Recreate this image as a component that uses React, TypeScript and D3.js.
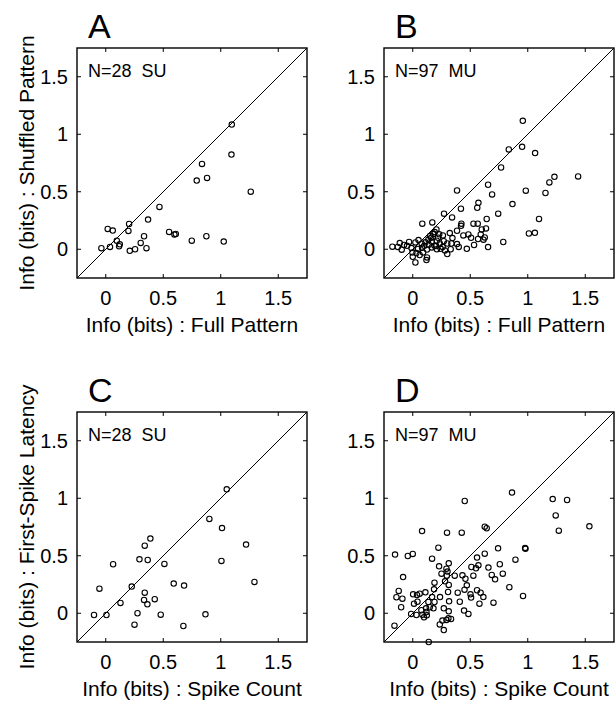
import React from 'react';
import * as d3 from 'd3';

// info values (bits)
const SU_SHUFFLED: [number, number][] = [
  [1.096, 1.084], [1.093, 0.823], [0.837, 0.742], [0.881, 0.62], [0.791, 0.597], [1.261, 0.501],
  [0.467, 0.368], [0.368, 0.258], [0.203, 0.22], [0.197, 0.159], [0.017, 0.177], [0.061, 0.162],
  [0.551, 0.151], [0.597, 0.128], [0.609, 0.133], [0.333, 0.113], [0.748, 0.075], [0.875, 0.113],
  [1.026, 0.067], [0.096, 0.075], [0.122, 0.043], [0.116, 0.026], [0.304, 0.055], [0.354, 0.009],
  [0.255, 0.0], [0.209, -0.014], [0.037, 0.02], [-0.038, 0.009],
];

const MU_SHUFFLED: [number, number][] = [
  [0.957, 1.117], [0.835, 0.868], [0.951, 0.891], [1.064, 0.836], [0.768, 0.711], [1.232, 0.63],
  [1.188, 0.581], [1.438, 0.633], [1.154, 0.489], [0.983, 0.509], [0.655, 0.561], [0.69, 0.477],
  [0.385, 0.511], [0.867, 0.393], [0.571, 0.404], [0.561, 0.361], [0.419, 0.352], [0.272, 0.309],
  [0.743, 0.309], [0.342, 0.277], [0.643, 0.263], [1.098, 0.263], [0.423, 0.222], [0.42, 0.204],
  [0.528, 0.222], [0.565, 0.222], [0.083, 0.222], [0.17, 0.233], [1.01, 0.137], [1.062, 0.143],
  [0.322, 0.141], [0.385, 0.161], [0.484, 0.129], [0.6, 0.172], [0.637, 0.181], [0.591, 0.129],
  [0.626, 0.103], [0.507, 0.1], [0.568, 0.089], [0.615, 0.083], [0.787, 0.063], [0.655, 0.019],
  [0.47, 0.004], [0.533, 0.037], [0.345, 0.097], [0.385, 0.045], [0.336, 0.05], [0.33, 0],
  [0.3, -0.042], [0.262, 0.12], [0.206, 0.172], [0.191, 0.149], [0.177, 0.132], [0.15, 0.115],
  [0.136, 0.085], [0.165, 0.065], [0.209, 0.074], [0.235, 0.05], [0.203, 0.028], [0.243, 0.004],
  [0.165, 0.016], [0.124, -0.002], [0.078, 0.048], [0.081, 0.013], [0.046, 0.002], [0.032, -0.033],
  [-0.003, -0.028], [0.023, 0.059], [-0.032, 0.063], [-0.076, 0.037], [-0.113, 0.054], [-0.096, -0.004],
  [-0.177, 0.022], [-0.011, 0.01], [0.09, -0.028], [0.124, -0.071], [0.023, -0.115], [0.119, -0.094],
  [-0.05, 0.03], [0.06, -0.05], [0.0, -0.065], [0.1, 0.03], [0.22, 0.1], [0.19, 0.03],
  [0.26, 0.02], [0.14, 0.04], [0.05, 0.08], [-0.13, 0.02], [0.27, 0.07], [0.16, 0.1],
  [0.28, -0.01], [0.21, 0.0], [0.11, 0.06], [0.3, 0.05], [0.23, 0.13], [0.4, 0.02], [0.44, 0.12],
];

const SU_LATENCY: [number, number][] = [
  [1.052, 1.078], [0.901, 0.82], [1.011, 0.741], [1.22, 0.597], [0.388, 0.649], [0.339, 0.588],
  [0.293, 0.469], [0.365, 0.463], [0.064, 0.426], [0.51, 0.429], [1.006, 0.455], [1.293, 0.272],
  [0.591, 0.258], [0.681, 0.241], [0.226, 0.232], [-0.055, 0.214], [0.339, 0.179], [0.333, 0.116],
  [0.362, 0.078], [0.426, 0.122], [0.128, 0.09], [-0.102, -0.015], [0.006, -0.015], [0.276, 0.0],
  [0.478, -0.012], [0.867, -0.009], [0.25, -0.099], [0.675, -0.111],
];

const MU_LATENCY: [number, number][] = [
  [0.863, 1.049], [0.452, 0.976], [1.217, 0.993], [1.342, 0.985], [1.243, 0.851], [1.27, 0.718],
  [1.536, 0.756], [0.626, 0.753], [0.643, 0.739], [0.081, 0.715], [0.298, 0.701], [0.426, 0.701],
  [0.223, 0.57], [0.742, 0.565], [0.977, 0.568], [0.98, 0.56], [-0.154, 0.51], [-0.043, 0.498],
  [0.0, 0.516], [0.168, 0.475], [0.626, 0.518], [0.559, 0.484], [0.893, 0.466], [0.313, 0.434],
  [0.229, 0.408], [0.293, 0.388], [0.51, 0.402], [0.571, 0.417], [0.757, 0.426], [0.658, 0.397],
  [0.55, 0.391], [-0.084, 0.315], [0.25, 0.344], [0.302, 0.362], [0.296, 0.327], [0.365, 0.327],
  [0.432, 0.33], [0.527, 0.327], [0.687, 0.333], [0.716, 0.295], [0.783, 0.344], [0.189, 0.266],
  [0.281, 0.278], [0.313, 0.246], [0.458, 0.3], [0.47, 0.243], [0.45, 0.205], [0.185, 0.208],
  [0.84, 0.226], [-0.122, 0.194], [-0.142, 0.139], [-0.09, 0.127], [0.003, 0.165], [0.037, 0.159],
  [0.11, 0.182], [0.168, 0.141], [0.237, 0.141], [0.307, 0.185], [0.391, 0.179], [0.502, 0.165],
  [0.559, 0.2], [0.59, 0.179], [0.614, 0.141], [0.507, 0.136], [0.959, 0.15], [0.702, 0.092],
  [0.58, 0.083], [0.409, 0.1], [0.316, 0.104], [0.011, 0.083], [0.041, 0.1], [0.136, 0.098],
  [0.27, 0.043], [0.116, 0.043], [0.148, 0.052], [0.075, 0.026], [-0.101, 0.052], [0.446, 0.023],
  [0.484, -0.006], [-0.014, -0.006], [0.032, -0.015], [0.084, -0.012], [0.098, -0.035], [0.122, -0.018],
  [0.119, 0.011], [0.18, 0.043], [-0.159, -0.108], [0.139, -0.25], [0.235, -0.097], [0.258, -0.064],
  [0.27, -0.146], [0.293, -0.058], [0.31, -0.044], [0.333, -0.05], [0.313, 0.017], [0.189, 0.098],
  [0.06, 0.17],
];

const DOMAIN: [number, number] = [-0.25, 1.75];
const TICKS = [0, 0.5, 1, 1.5];
const TICK_LABELS = ['0', '0.5', '1', '1.5'];

const PANELS = [
  { letter: 'A', note: 'N=28  SU', data: SU_SHUFFLED, xLabel: 'Info (bits) : Full Pattern', yLabel: 'Info (bits) : Shuffled Pattern', left: 77, top: 48 },
  { letter: 'B', note: 'N=97  MU', data: MU_SHUFFLED, xLabel: 'Info (bits) : Full Pattern', yLabel: null, left: 384, top: 48 },
  { letter: 'C', note: 'N=28  SU', data: SU_LATENCY, xLabel: 'Info (bits) : Spike Count', yLabel: 'Info (bits) : First-Spike Latency', left: 77, top: 412 },
  { letter: 'D', note: 'N=97  MU', data: MU_LATENCY, xLabel: 'Info (bits) : Spike Count', yLabel: null, left: 384, top: 412 },
];

const SIZE = 230;
const FONT = '"Liberation Sans", Arial, Helvetica, sans-serif';

function Panel({ p }: { p: typeof PANELS[number] }) {
  const x = d3.scaleLinear().domain(DOMAIN).range([0, SIZE]);
  const y = d3.scaleLinear().domain(DOMAIN).range([SIZE, 0]);
  const tl = 4;
  return (
    <g transform={`translate(${p.left},${p.top})`} fontFamily={FONT}>
      <text x={11} y={-10} fontSize={34}>{p.letter}</text>
      <line x1={x(DOMAIN[0])} y1={y(DOMAIN[0])} x2={x(DOMAIN[1])} y2={y(DOMAIN[1])} stroke="#000" strokeWidth={1} />
      {p.data.map((d, i) => (
        <circle key={i} cx={x(d[0])} cy={y(d[1])} r={2.7} fill="none" stroke="#000" strokeWidth={1.1} />
      ))}
      {TICKS.map((t, i) => (
        <g key={i}>
          <line x1={x(t)} x2={x(t)} y1={SIZE} y2={SIZE - tl} stroke="#000" />
          <line x1={x(t)} x2={x(t)} y1={0} y2={tl} stroke="#000" />
          <line x1={0} x2={tl} y1={y(t)} y2={y(t)} stroke="#000" />
          <line x1={SIZE} x2={SIZE - tl} y1={y(t)} y2={y(t)} stroke="#000" />
          <text x={x(t)} y={SIZE + 27} fontSize={20} textAnchor="middle">{TICK_LABELS[i]}</text>
          <text x={-9} y={y(t) + 7} fontSize={20} textAnchor="end">{TICK_LABELS[i]}</text>
        </g>
      ))}
      <rect x={0} y={0} width={SIZE} height={SIZE} fill="none" stroke="#000" strokeWidth={1.4} />
      <text x={11} y={29} fontSize={18} style={{ whiteSpace: 'pre' }}>{p.note}</text>
      <text x={SIZE / 2} y={SIZE + 54} fontSize={21} textAnchor="middle">{p.xLabel}</text>
      {p.yLabel && (
        <text transform={`translate(${34 - p.left},${SIZE / 2}) rotate(-90)`} fontSize={21} textAnchor="middle">{p.yLabel}</text>
      )}
    </g>
  );
}

export default function App() {
  return (
    <svg width={615} height={703} style={{ position: 'absolute', left: 0, top: 0, background: '#fff' }}>
      <rect width={615} height={703} fill="#fff" />
      {PANELS.map((p) => <Panel key={p.letter} p={p} />)}
    </svg>
  );
}
